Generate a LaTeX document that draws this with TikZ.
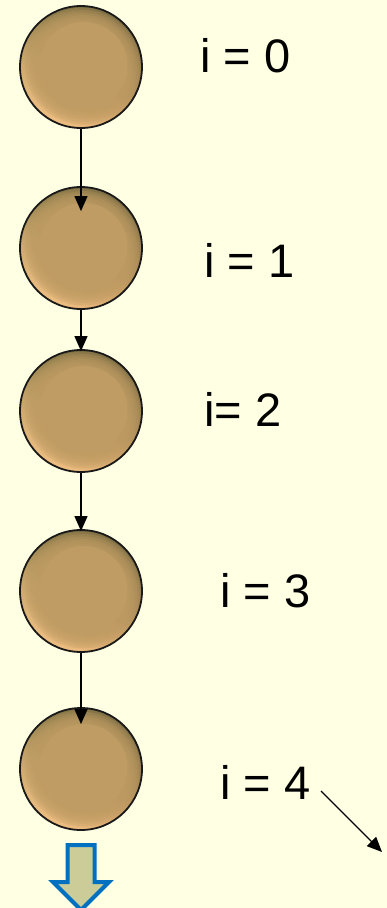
\documentclass[tikz,border=0pt]{standalone}
\usepackage{fontspec}
\setmainfont{Liberation Sans}
\usetikzlibrary{arrows.meta,shadings}
\definecolor{bgcol}{HTML}{FFFFE4}
\definecolor{ballbase}{HTML}{BF9C63}
\definecolor{balllight}{HTML}{FFCC8E}
\definecolor{balldark}{HTML}{44462A}
\definecolor{ballmidA}{HTML}{A08A52}
\definecolor{ballmidB}{HTML}{D8A86C}
\definecolor{blockfill}{HTML}{CCCC99}
\definecolor{blockedge}{HTML}{0070C0}
\tikzset{
  ball/.style={circle, minimum size=122pt, inner sep=0pt, line width=1.8pt, draw=black!90,
    path picture={
      \shade[upper left=ballmidA, upper right=balldark, lower left=balllight, lower right=ballmidB]
        (path picture bounding box.south west) rectangle (path picture bounding box.north east);
      \foreach \rr in {58.5,56,53.5,51,48.5,46}{
        \fill[ballbase, fill opacity=0.3]
          ([xshift=2.5pt,yshift=1pt]path picture bounding box.center) circle[radius=\rr pt];
      }
      \fill[ballbase]
        ([xshift=2.5pt,yshift=1pt]path picture bounding box.center) circle[radius=44pt];
    }},
  conn/.style={line width=1.3pt, -{Triangle[length=15pt,width=13pt]}},
  lbl/.style={anchor=base west, inner sep=0pt, font=\fontsize{47}{56}\selectfont},
  blockarrow/.style={fill=blockfill, draw=blockedge, line width=4pt, line join=miter}
}
\begin{document}
\begin{tikzpicture}[x=1pt,y=-1pt]
\fill[bgcol] (0,0) rectangle (387,908);
\useasboundingbox (0,0) rectangle (387,908);
\node[ball] (c1) at (81,67) {};
\node[ball] (c2) at (81,248) {};
\node[ball] (c3) at (81,411) {};
\node[ball] (c4) at (81,591) {};
\node[ball] (c5) at (81,769) {};
\draw[conn, shorten >=-25pt] (c1.south) -- (c2.north);
\draw[conn, shorten >=-2pt] (c2.south) -- (c3.north);
\draw[conn, shorten >=-2pt] (c3.south) -- (c4.north);
\draw[conn, shorten >=-17pt] (c4.south) -- (c5.north);
\node[lbl] (l0) at (200,72) {i = 0};
\node[lbl] (l1) at (204,277) {i = 1};
\node[lbl] (l2) at (204,426) {i= 2};
\node[lbl] (l3) at (220,607) {i = 3};
\node[lbl] (l4) at (220,799) {i = 4};
\coordinate (s1) at (321,791);
\coordinate (s2) at (382,852);
\draw[conn] (s1) -- (s2);
\begin{scope}
\clip (0,0) rectangle (387,908);
\draw[blockarrow] (67.5,845) -- (94.5,845) -- (94.5,882) -- (109,882) -- (81,910) -- (53,882) -- (67.5,882) -- cycle;
\end{scope}
\end{tikzpicture}
\end{document}
